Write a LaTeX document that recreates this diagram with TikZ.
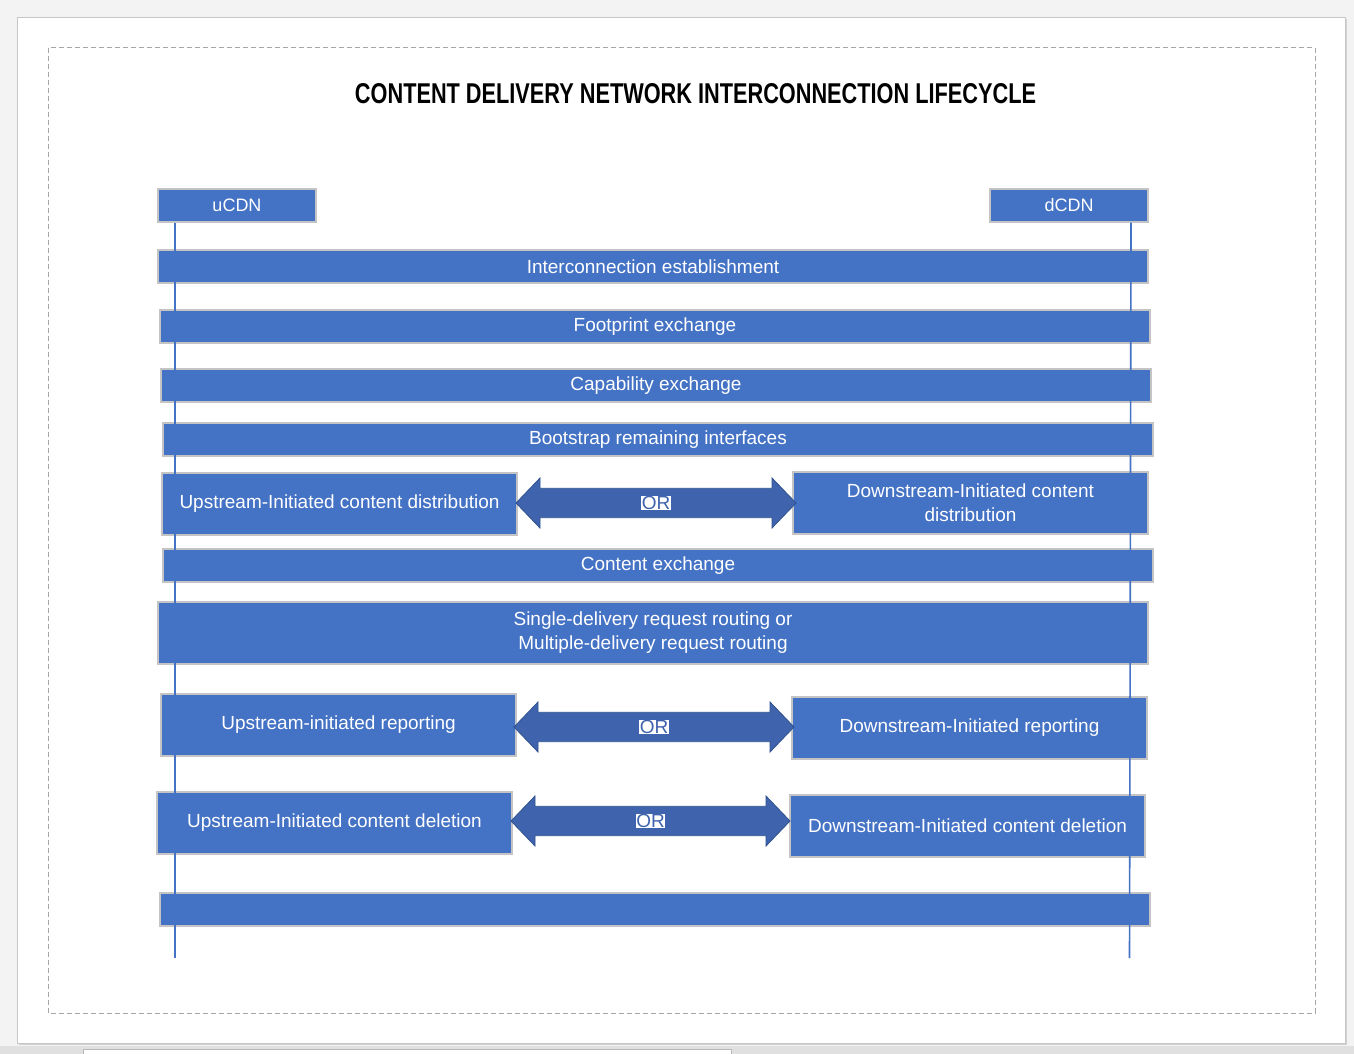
\documentclass[tikz,border=0pt]{standalone}
\usepackage{fontspec}
\setmainfont{Liberation Sans}
\usepackage{graphicx}
\usetikzlibrary{calc}
\definecolor{boxblue}{HTML}{4472C4}
\definecolor{arrblue}{HTML}{3F64AD}
\definecolor{arredge}{HTML}{2F528F}
\definecolor{boxedge}{HTML}{C4C4C4}
\definecolor{pagebg}{HTML}{F3F3F3}
\definecolor{dashgray}{HTML}{A6A6A6}
\tikzset{
  bar/.style={draw=boxedge, line width=1.2pt, fill=boxblue, text=white, inner sep=0pt,
    font=\fontsize{19}{24}\selectfont, align=center},
  wide/.style={bar, minimum width=990pt, minimum height=33pt},
  half/.style={bar, minimum width=355pt, minimum height=62pt},
  actor/.style={bar, minimum width=158pt, minimum height=33pt, font=\fontsize{18}{22}\selectfont},
  lifeline/.style={draw=boxblue, line width=1.6pt},
  orarrow/.style={fill=arrblue, draw=arredge, line width=0.8pt},
  orlabel/.style={fill=white, text=arrblue, inner sep=0.6pt, font=\fontsize{19}{22}\selectfont},
}
\newcommand\orarr[4]{% name, left tip x, right tip x, centre y
  \filldraw[orarrow] (#2,#4) -- (#2+24,#4-25) -- (#2+24,#4-14.7) -- (#3-24,#4-14.7) -- (#3-24,#4-25)
    -- (#3,#4) -- (#3-24,#4+25) -- (#3-24,#4+14.7) -- (#2+24,#4+14.7) -- (#2+24,#4+25) -- cycle;
  \node[orlabel] (#1) at ({(#2+#3)/2},#4) {OR};}
\begin{document}
\begin{tikzpicture}[x=1pt,y=-1pt]
\useasboundingbox (0,0) rectangle (1354,1054);
% page background and sheet
\fill[pagebg] (0,0) rectangle (1354,1054);
\fill[black!18] (19,19) rectangle (1347,1045);
\fill[white, draw=black!22, line width=0.8pt] (17.5,17.5) rectangle (1345,1043);
\fill[black!12] (0,1046) rectangle (1354,1054);
\fill[white, draw=black!28, line width=0.6pt] (83,1049) rectangle (731,1056);
% dashed frame
\draw[dashgray, dashed, dash pattern=on 5pt off 3pt, line width=1pt] (48,48) rectangle (1315,1013);
% title
\node (title) at (695.5,94) {\resizebox{681pt}{20pt}{\bfseries CONTENT DELIVERY NETWORK INTERCONNECTION LIFECYCLE}};
% actors
\node[actor] (ucdn) at (237,205.5) {uCDN};
\node[actor] (dcdn) at (1069,205.5) {dCDN};
% phases
\node[wide] (ie) at (653,266.5) {Interconnection establishment};
\node[wide] (fe) at (655,326.5) {Footprint exchange};
\node[wide] (ce) at (656,385.5) {Capability exchange};
\node[wide] (br) at (658,439.5) {Bootstrap remaining interfaces};
\node[half] (uicd) at (339.5,504) {Upstream-Initiated content distribution};
\node[half] (dicd) at (970.5,503) {Downstream-Initiated content\\distribution};
\node[wide] (cx) at (658,565.5) {Content exchange};
\node[wide, minimum height=62pt] (srr) at (653,633) {Single-delivery request routing or\\Multiple-delivery request routing};
\node[half] (uir) at (338.5,725) {Upstream-initiated reporting};
\node[half] (dir) at (969.5,728) {Downstream-Initiated reporting};
\node[half] (uidel) at (334.5,823) {Upstream-Initiated content deletion};
\node[half] (didel) at (967.5,826) {Downstream-Initiated content deletion};
\node[wide] (last) at (655,909.5) {};
% OR arrows
\orarr{or1}{516}{796}{503}
\orarr{or2}{514}{794}{727}
\orarr{or3}{511}{790}{821}
% lifelines
\coordinate (uend) at (175,958);
\coordinate (dend) at (1129.5,958);
\draw[lifeline] (ucdn.south -| uend) -- (uend);
\draw[lifeline] (ucdn.south -| 1131,0) -- (dend);
\end{tikzpicture}
\end{document}
